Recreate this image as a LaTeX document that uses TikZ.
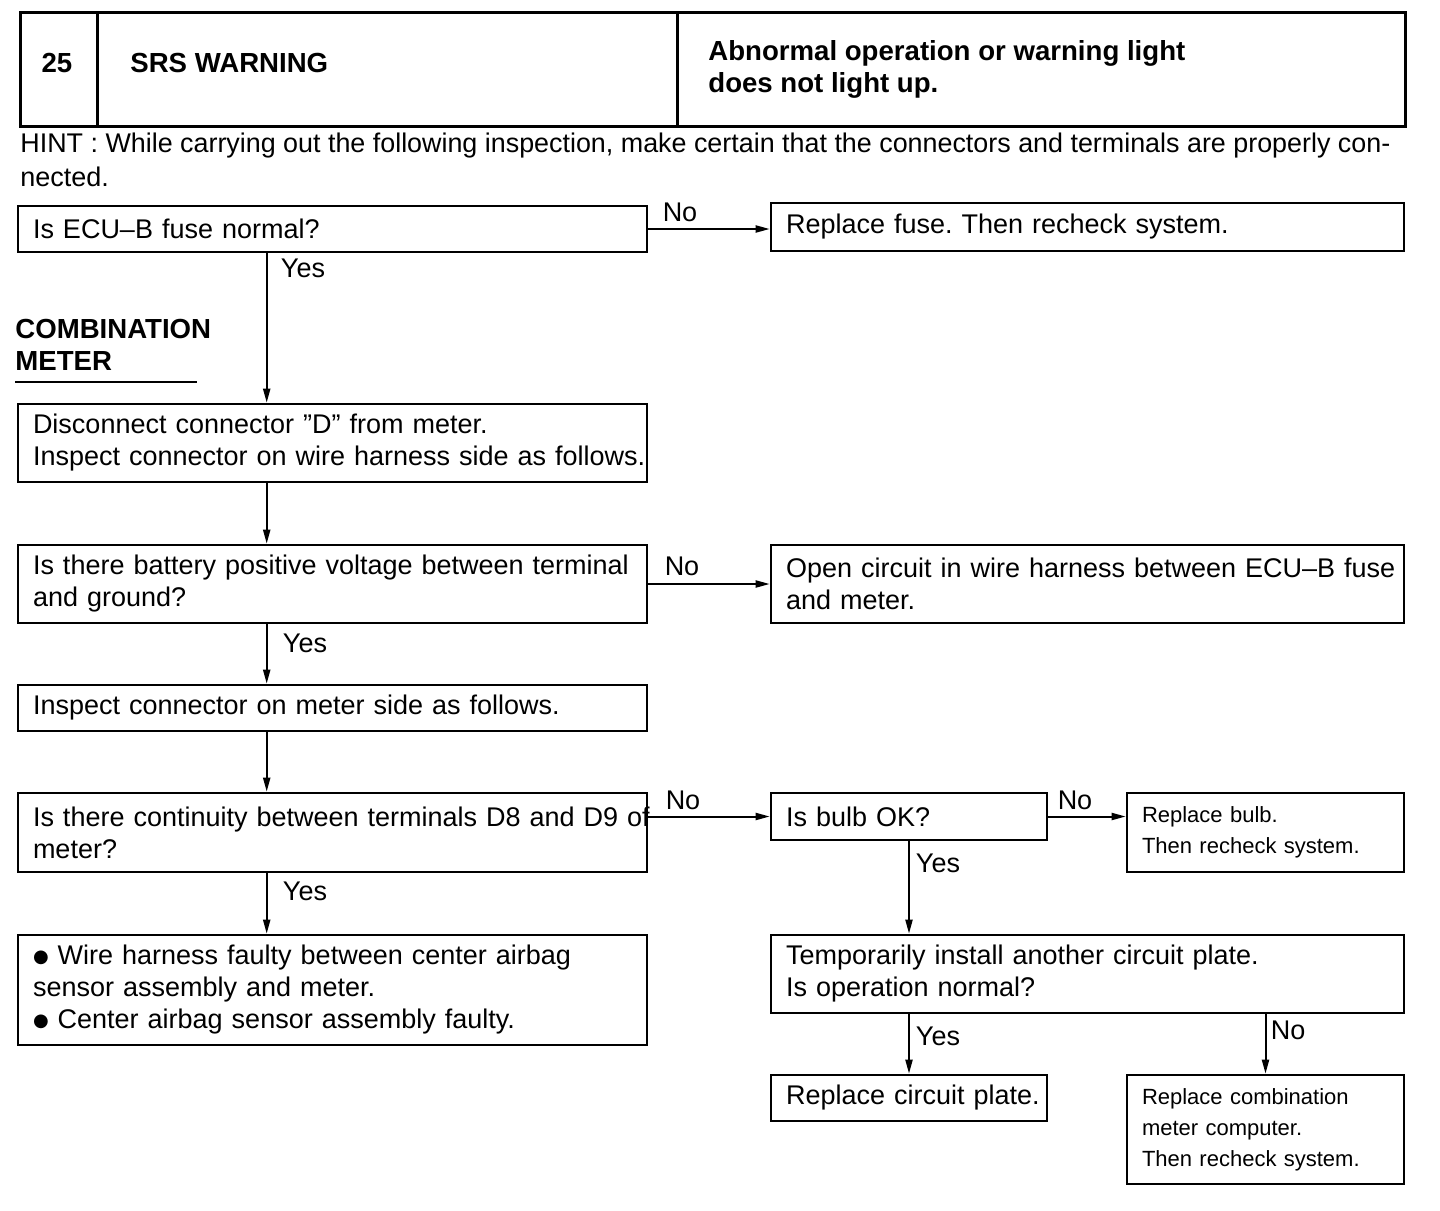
\documentclass[tikz,border=0pt]{standalone}
\usepackage{fontspec}
\usepackage{graphicx}
\setmainfont{Liberation Sans}
\newfontfamily\dvfont{DejaVu Sans}
\usetikzlibrary{arrows.meta}
\frenchspacing
\newcommand\bigf{\fontsize{13.5}{16}\selectfont}
\newcommand\smallf{\fontsize{11}{15.5}\selectfont}
\newcommand\hdf{\fontsize{13.8}{16}\selectfont\bfseries}
\newcommand\bul{\raisebox{1.2pt}{\dvfont\fontsize{9}{9}\selectfont ●}}
\begin{document}
\begin{tikzpicture}[x=0.5pt,y=-0.5pt,
  box/.style={draw, line width=1.3pt, rectangle, align=left, inner xsep=7.5pt, inner ysep=0pt, font=\bigf},
  arr/.style={draw, line width=1pt, -{Triangle[length=7pt,width=3.5pt]}},
  lbl/.style={font=\bigf, inner sep=0pt},
  cell/.style={draw, line width=1.5pt, rectangle, inner sep=0pt, minimum height=57pt},
  hd/.style={font=\hdf, inner sep=0pt}]
\useasboundingbox (0,0) rectangle (1440,1210);

% header
\node[cell, minimum width=38.5pt] (h1) at (58.5,69) {};
\node[cell, minimum width=290pt] (h2) at (387,69) {};
\node[cell, minimum width=364pt] (h3) at (1041,69) {};
\node[hd] (t25) at (57,63) {25};
\node[hd, anchor=west] (tsrs) at (130,63) {SRS WARNING};
\node[hd, anchor=west, align=left] (tab) at (708,69) {Abnormal operation or warning light\\does not light up.};

% hint
\node[lbl, anchor=west] (hint1) at (20,146) {\resizebox{685pt}{\height}{HINT : While carrying out the following inspection, make certain that the connectors and terminals are properly con-}};
\node[lbl, anchor=west] (hint2) at (20,177) {nected.};

% combination meter
\node[hd, anchor=west, align=left] (cm) at (15,345) {COMBINATION\\METER};
\draw[line width=1pt] (15,382) -- (197,382);

% boxes
\node[box, text width=299.5pt, minimum height=23pt] (n1) at (332.5,229) {Is ECU–B fuse normal?};
\node[box, text width=301.5pt, minimum height=24pt] (n2) at (1087.5,227) {Replace fuse. Then recheck system.};
\node[box, text width=299.5pt, minimum height=39pt] (n3) at (332.5,443) {\mbox{Disconnect connector ”D” from meter.}\\\mbox{Inspect connector on wire harness side as follows.}};
\node[box, text width=299.5pt, minimum height=39pt] (n4) at (332.5,584) {\mbox{Is there battery positive voltage between terminal}\\and ground?};
\node[box, text width=301.5pt, minimum height=39pt] (n5) at (1087.5,584) {\mbox{Open circuit in wire harness between ECU–B fuse}\\and meter.};
\node[box, text width=299.5pt, minimum height=23pt] (n6) at (332.5,708) {Inspect connector on meter side as follows.};
\node[box, text width=299.5pt, minimum height=39.5pt] (n7) at (332.5,832.5) {\mbox{Is there continuity between terminals D8 and D9 of}\\meter?};
\node[box, text width=123pt, minimum height=23.5pt] (n8) at (909,816.5) {Is bulb OK?};
\node[box, text width=123.5pt, minimum height=39.5pt, font=\smallf] (n9) at (1265.5,832.5) {Replace bulb.\\Then recheck system.};
\node[box, text width=301.5pt, minimum height=39pt] (n10) at (1087.5,974) {Temporarily install another circuit plate.\\Is operation normal?};
\node[box, text width=123pt, minimum height=23pt] (n11) at (909,1098) {\mbox{Replace circuit plate.}};
\node[box, text width=123.5pt, minimum height=54.5pt, font=\smallf] (n12) at (1265.5,1129.5) {Replace combination\\meter computer.\\Then recheck system.};
\node[box, text width=299.5pt, minimum height=55pt] (n13) at (332.5,990) {\mbox{\bul{} Wire harness faulty between center airbag}\\sensor assembly and meter.\\\bul{} Center airbag sensor assembly faulty.};

% connectors
\draw[arr] (n1.east) -- (n1.east -| n2.west);
\draw[arr] ([xshift=125pt]n1.south west) -- ([xshift=125pt]n3.north west);
\draw[arr] ([xshift=125pt]n3.south west) -- ([xshift=125pt]n4.north west);
\draw[arr] (n4.east) -- (n4.east -| n5.west);
\draw[arr] ([xshift=125pt]n4.south west) -- ([xshift=125pt]n6.north west);
\draw[arr] ([xshift=125pt]n6.south west) -- ([xshift=125pt]n7.north west);
\draw[arr] (n8.west -| n7.east) -- (n8.west);
\draw[arr] (n8.east) -- (n8.east -| n9.west);
\draw[arr] (n8.south) -- (n8.south |- n10.north);
\draw[arr] ([xshift=125pt]n7.south west) -- ([xshift=125pt]n13.north west);
\draw[arr] (n11.north |- n10.south) -- (n11.north);
\draw[arr] (n12.north |- n10.south) -- (n12.north);

% labels
\node[lbl] (l1) at (680,212) {No};
\node[lbl] (l2) at (303,268) {Yes};
\node[lbl] (l3) at (682,566) {No};
\node[lbl] (l4) at (305,643) {Yes};
\node[lbl] (l5) at (683,800) {No};
\node[lbl] (l6) at (1075,800) {No};
\node[lbl] (l7) at (938,863) {Yes};
\node[lbl] (l8) at (305,891) {Yes};
\node[lbl] (l9) at (938,1036) {Yes};
\node[lbl] (l10) at (1288,1030) {No};
\end{tikzpicture}
\end{document}
